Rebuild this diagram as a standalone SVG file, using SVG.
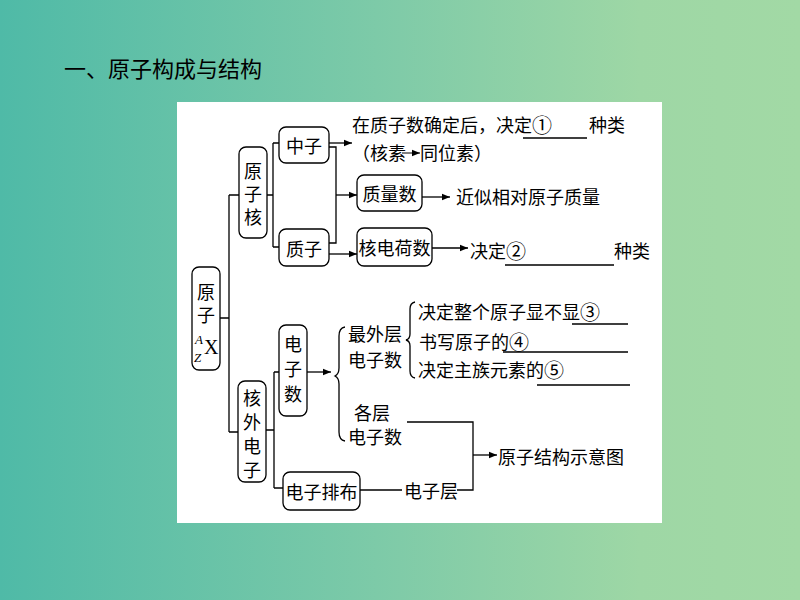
<svg xmlns="http://www.w3.org/2000/svg" width="800" height="600" viewBox="0 0 800 600">
<defs>
<linearGradient id="bg" x1="0" y1="0" x2="1" y2="0">
<stop offset="0" stop-color="#4fbaa7"/>
<stop offset="0.5" stop-color="#80cba8"/>
<stop offset="0.8" stop-color="#9ed7a5"/>
<stop offset="1" stop-color="#a2d9a5"/>
</linearGradient>
<marker id="ah" viewBox="0 0 10 10" refX="10" refY="5" markerWidth="8" markerHeight="8" markerUnits="userSpaceOnUse" orient="auto">
<path d="M0,1 L10,5 L0,9 Z" fill="#000"/>
</marker>
<style>
.box{fill:#fff;stroke:#000;stroke-width:1.3}
.ln{fill:none;stroke:#000;stroke-width:1.3}
.t{font-family:"Noto Sans CJK SC","Liberation Serif",serif;font-size:18px;fill:#000;text-anchor:middle;dominant-baseline:central}
.tl{font-family:"Noto Sans CJK SC","Liberation Serif",serif;font-size:18px;fill:#000;dominant-baseline:central}
.v{font-family:"Noto Sans CJK SC","Liberation Serif",serif;font-size:18px;fill:#000;writing-mode:vertical-rl;text-anchor:start}
.lat{font-family:"Liberation Serif",serif;font-style:italic;fill:#000}
.c{font-size:20px}
</style>
</defs>
<rect width="800" height="600" fill="url(#bg)"/>
<text x="64" y="67" font-family="'Noto Sans CJK SC',sans-serif" font-size="22" fill="#000" dominant-baseline="central">一、原子构成与结构</text>
<rect x="177" y="102" width="485" height="421" fill="#fff"/>

<g id="connectors">
<path class="ln" d="M220,318 H229 M229,195 V432 M229,195 H239 M229,432 H238"/>
<path class="ln" d="M266,195 H273 M273,143 V247 M273,143 H279 M273,247 H279"/>
<path class="ln" d="M329,143 H352" marker-end="url(#ah)"/>
<path class="ln" d="M329,147 H336 V243 H329"/>
<path class="ln" d="M336,195 H357" marker-end="url(#ah)"/>
<path class="ln" d="M329,254 H357" marker-end="url(#ah)"/>
<path class="ln" d="M422,197 H450" marker-end="url(#ah)"/>
<path class="ln" d="M432,248 H468" marker-end="url(#ah)"/>
<path class="ln" d="M266,430 H274 M274,372 V488 M274,372 H279 M274,488 H283"/>
<path class="ln" d="M307,372 H331" marker-end="url(#ah)"/>
<path class="ln" d="M407,422 H473 V490 H457"/>
<path class="ln" d="M473,455 H497" marker-end="url(#ah)"/>
<path class="ln" d="M360,490 H402"/>
<path class="ln" d="M402,153 H420" marker-end="url(#ah)" style="stroke-width:1"/>
<path class="ln" d="M345,327 Q339,328 339,336 V368 Q339,374 335,376 Q339,378 339,384 V432 Q339,440 345,441"/>
<path class="ln" d="M415,302 Q410,303 410,309 V334 Q410,339 406,340 Q410,341 410,346 V371 Q410,377 415,378"/>
<path class="ln" d="M523,138 H587 M505,265 H614 M572,324 H628 M503,352 H628 M537,385 H630"/>
</g>

<g id="n-atom">
<rect class="box" x="192" y="267" width="28" height="103" rx="7"/>
<text class="v" x="206" y="283" letter-spacing="5">原子</text>
<text class="lat" x="195" y="344" font-size="13">A</text>
<text class="lat" x="194" y="362" font-size="13">Z</text>
<text x="204" y="354" font-family="'Liberation Serif',serif" font-size="20" fill="#000">X</text>
</g>
<g id="n-nucleus">
<rect class="box" x="239" y="147" width="28" height="91" rx="7"/>
<text class="v" x="253" y="162" letter-spacing="5">原子核</text>
</g>
<g id="n-neutron">
<rect class="box" x="279" y="127" width="50" height="36" rx="7"/>
<text class="t" x="304" y="145">中子</text>
</g>
<g id="n-proton">
<rect class="box" x="279" y="229" width="50" height="37" rx="7"/>
<text class="t" x="304" y="248">质子</text>
</g>
<g id="n-mass">
<rect class="box" x="357" y="175" width="65" height="36" rx="7"/>
<text class="t" x="389.500" y="193">质量数</text>
</g>
<g id="n-charge">
<rect class="box" x="357" y="228" width="75" height="38" rx="7"/>
<text class="t" x="394.500" y="247">核电荷数</text>
</g>
<g id="t-top">
<text class="tl" x="352" y="124">在质子数确定后，决定<tspan class="c">①</tspan></text>
<text class="tl" x="589" y="124">种类</text>
<text class="tl" x="352" y="152">（核素</text>
<text class="tl" x="420" y="152">同位素）</text>
</g>
<g id="t-mass">
<text class="tl" x="456" y="196">近似相对原子质量</text>
</g>
<g id="t-charge">
<text class="tl" x="470" y="250">决定<tspan class="c">②</tspan></text>
<text class="tl" x="614" y="250">种类</text>
</g>
<g id="n-outer">
<rect class="box" x="238" y="381" width="28" height="101" rx="7"/>
<text class="v" x="252" y="389" letter-spacing="6">核外电子</text>
</g>
<g id="n-ecount">
<rect class="box" x="279" y="325" width="28" height="91" rx="7"/>
<text class="v" x="293" y="335" letter-spacing="7">电子数</text>
</g>
<g id="n-config">
<rect class="box" x="283" y="472" width="77" height="38" rx="7"/>
<text class="t" x="321.500" y="491">电子排布</text>
</g>
<g id="t-valence">
<text class="t" x="375" y="333">最外层</text>
<text class="t" x="375" y="359">电子数</text>
<text class="tl" x="418" y="311">决定整个原子显不显<tspan class="c">③</tspan></text>
<text class="tl" x="419" y="341">书写原子的<tspan class="c">④</tspan></text>
<text class="tl" x="418" y="369">决定主族元素的<tspan class="c">⑤</tspan></text>
</g>
<g id="t-layers">
<text class="t" x="372" y="412">各层</text>
<text class="t" x="375" y="436">电子数</text>
</g>
<g id="t-shell">
<text class="t" x="431" y="490">电子层</text>
</g>
<g id="t-diagram">
<text class="tl" x="498" y="456">原子结构示意图</text>
</g>
</svg>
